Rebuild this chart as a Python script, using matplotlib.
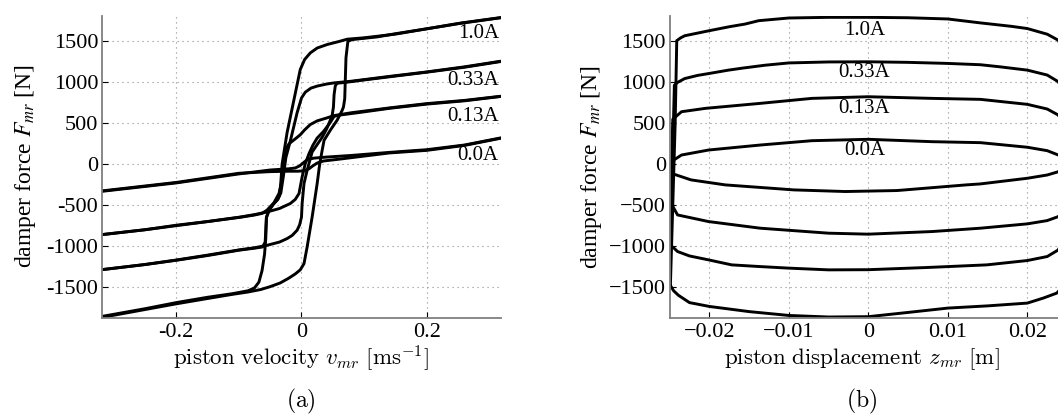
import matplotlib
matplotlib.use('Agg')
import matplotlib.pyplot as plt

plt.rcParams['font.family'] = ['Liberation Serif', 'DejaVu Serif']
plt.rcParams['mathtext.fontset'] = 'stix'

# ---------------- data: force vs velocity (panel a) ----------------
# 0.0 A
v00_a = [-0.318, -0.2, -0.1, -0.05, -0.02, -0.01, -0.003, 0.004, 0.01, 0.02, 0.04, 0.08, 0.14, 0.2, 0.26, 0.318]
F00_a = [-330, -228, -118, -70, -55, -45, -20, 25, 60, 75, 88, 108, 145, 178, 235, 322]
v00_b = [-0.318, -0.2, -0.1, -0.05, -0.02, -0.005, 0.005, 0.012, 0.018, 0.025, 0.035, 0.06, 0.1, 0.14, 0.2, 0.26, 0.318]
F00_b = [-325, -222, -110, -90, -85, -85, -78, -55, -20, 15, 40, 62, 100, 138, 170, 230, 318]
# 0.13 A
v13_a = [-0.318, -0.25, -0.2, -0.15, -0.1, -0.075, -0.063, -0.055, -0.044, -0.036, -0.031, -0.028, -0.026,
         -0.02, -0.01, -0.002, 0.005, 0.014, 0.025, 0.04, 0.052, 0.08, 0.142, 0.2, 0.26, 0.318]
F13_a = [-859, -800, -745, -700, -650, -620, -600, -560, -470, -358, -196, 8, 171,
         250, 310, 360, 420, 485, 530, 565, 595, 630, 690, 741, 780, 831]
v13_b = [0.318, 0.26, 0.2, 0.142, 0.09, 0.06, 0.052, 0.045, 0.035, 0.025, 0.018, 0.012, 0.006, 0.001,
         -0.004, -0.01, -0.018, -0.035, -0.055, -0.075, -0.097, -0.15, -0.2, -0.25, -0.318]
F13_b = [828, 775, 735, 685, 630, 600, 585, 500, 400, 320, 230, 130, 8, -155,
         -358, -430, -480, -540, -583, -615, -644, -700, -750, -800, -859]
# 0.33 A
v33_a = [-0.318, -0.25, -0.2, -0.15, -0.1, -0.075, -0.062, -0.058, -0.057, -0.056, -0.052, -0.045, -0.038,
         -0.033, -0.029, -0.025, -0.018, -0.012, -0.007, 0.0, 0.006, 0.015, 0.025, 0.04, 0.052, 0.08,
         0.142, 0.2, 0.26, 0.318]
F33_a = [-1287, -1225, -1173, -1115, -1050, -1025, -1010, -950, -800, -650, -560, -490, -430,
         -350, -150, 80, 280, 470, 630, 810, 880, 930, 955, 980, 994, 1015,
         1075, 1128, 1190, 1259]
v33_b = [0.318, 0.26, 0.2, 0.142, 0.1, 0.07, 0.057, 0.054, 0.052, 0.051, 0.049, 0.045, 0.04, 0.033,
         0.025, 0.017, 0.009, 0.004, 0.001, 0.0, -0.003, -0.007, -0.015, -0.023, -0.035, -0.055,
         -0.075, -0.097, -0.15, -0.2, -0.25, -0.318]
F33_b = [1255, 1185, 1125, 1070, 1030, 1000, 990, 960, 850, 700, 600, 520, 430, 330,
         240, 150, -73, -236, -480, -644, -740, -806, -870, -908, -950, -990,
         -1020, -1043, -1110, -1170, -1225, -1287]
# 1.0 A
v10_a = [-0.318, -0.25, -0.2, -0.15, -0.111, -0.085, -0.075, -0.068, -0.063, -0.059, -0.057, -0.056,
         -0.052, -0.045, -0.038, -0.035, -0.033, -0.031, -0.023, -0.012, -0.006, -0.002, 0.005, 0.014,
         0.025, 0.041, 0.06, 0.073, 0.1, 0.15, 0.2, 0.254, 0.318]
F10_a = [-1858, -1765, -1690, -1625, -1582, -1545, -1510, -1440, -1300, -1100, -900, -650,
         -570, -485, -430, -380, -220, 0, 387, 790, 1010, 1157, 1280, 1360,
         1420, 1463, 1500, 1528, 1545, 1590, 1655, 1725, 1792]
v10_b = [0.318, 0.254, 0.2, 0.15, 0.121, 0.095, 0.08, 0.074, 0.071, 0.070, 0.069, 0.067, 0.065,
         0.057, 0.046, 0.036, 0.033, 0.029, 0.025, 0.017, 0.009, 0.004, -0.002, -0.01, -0.02,
         -0.034, -0.05, -0.065, -0.085, -0.111, -0.15, -0.2, -0.25, -0.318]
F10_b = [1790, 1722, 1655, 1595, 1556, 1535, 1522, 1500, 1300, 1050, 800, 700, 660,
         540, 416, 293, 171, 0, -236, -644, -1010, -1214, -1290, -1340, -1390,
         -1450, -1495, -1530, -1560, -1590, -1640, -1705, -1775, -1870]

# ---------------- data: force vs displacement (panel b) ----------------
z00_up = [-0.0249, -0.0248, -0.0235, -0.0201, -0.0136, -0.0071, 0.0, 0.008, 0.0141, 0.02, 0.0225, 0.0239, 0.0247, 0.025]
F00_up = [-114, 32, 113, 174, 235, 288, 305, 276, 264, 208, 166, 113, 60, 20]
z00_dn = [0.025, 0.0239, 0.0225, 0.02, 0.0141, 0.0123, 0.0036, -0.0029, -0.0094, -0.018, -0.0223, -0.0248, -0.0249]
F00_dn = [20, -91, -131, -171, -240, -252, -321, -333, -313, -252, -191, -110, -114]

z13_up = [-0.0249, -0.0246, -0.0235, -0.0205, -0.0136, -0.0071, 0.0, 0.008, 0.0141, 0.02, 0.0225, 0.0239, 0.0247, 0.025]
F13_up = [-520, 550, 642, 683, 744, 805, 825, 805, 793, 732, 675, 601, 450, 200]
z13_dn = [0.025, 0.0246, 0.0239, 0.0225, 0.02, 0.0141, 0.008, 0.0, -0.005, -0.0136, -0.0201, -0.024, -0.0248, -0.0249]
F13_dn = [200, -560, -639, -688, -728, -781, -822, -854, -842, -781, -700, -619, -480, -520]

z33_up = [-0.0249, -0.0244, -0.024, -0.0231, -0.0215, -0.0201, -0.0176, -0.0158, -0.013, -0.01, -0.005, 0.0,
          0.005, 0.01, 0.0141, 0.0166, 0.02, 0.0225, 0.0239, 0.0247, 0.025]
F33_up = [-990, 965, 1000, 1047, 1085, 1108, 1150, 1175, 1210, 1238, 1250, 1252,
          1245, 1232, 1216, 1190, 1150, 1090, 1008, 850, 600]
z33_dn = [0.025, 0.0245, 0.0239, 0.0225, 0.02, 0.0149, 0.01, 0.0074, 0.0, -0.005, -0.01, -0.0136, -0.0172,
          -0.0201, -0.0225, -0.024, -0.0245, -0.0249]
F33_dn = [600, -900, -1046, -1127, -1176, -1229, -1250, -1261, -1288, -1290, -1269, -1250, -1229,
          -1168, -1120, -1066, -1020, -990]

z10_up = [-0.0249, -0.0246, -0.0243, -0.0241, -0.0236, -0.0231, -0.02, -0.0175, -0.0155, -0.0138, -0.01,
          -0.005, 0.0, 0.005, 0.01, 0.0141, 0.018, 0.02, 0.0225, 0.0239, 0.0246, 0.025]
F10_up = [-1480, -500, 500, 1510, 1545, 1570, 1632, 1680, 1713, 1754, 1787,
          1795, 1795, 1790, 1775, 1727, 1685, 1658, 1589, 1515, 1350, 1000]
z10_dn = [0.025, 0.0246, 0.0237, 0.022, 0.02, 0.015, 0.01, 0.005, 0.0, -0.005, -0.01, -0.015, -0.02,
          -0.0225, -0.0239, -0.0245, -0.0249]
F10_dn = [1000, -1480, -1574, -1635, -1696, -1730, -1757, -1810, -1862, -1866, -1847, -1800, -1737,
          -1690, -1600, -1545, -1480]

# axis ticks and labels
vel_ticks = [-0.2, 0, 0.2]
vel_ticklabels = ['-0.2', '0', '0.2']
disp_ticks = [-0.02, -0.01, 0, 0.01, 0.02]
disp_ticklabels = ['\u22120.02', '\u22120.01', '0', '0.01', '0.02']
force_ticks = [-1500, -1000, -500, 0, 500, 1000, 1500]
force_ticklabels_a = ['-1500', '-1000', '-500', '0', '500', '1000', '1500']
force_ticklabels_b = ['\u22121500', '\u22121000', '\u2212500', '0', '500', '1000', '1500']
currents = ['0.0A', '0.13A', '0.33A', '1.0A']
label_F_a = [110, 578, 1026, 1597]
label_F_b = [174, 683, 1126, 1630]

# ---------------- figure ----------------
W, H = 1058, 418
fig = plt.figure(figsize=(W / 100, H / 100), dpi=100)
axA = fig.add_axes([102.3 / W, 1 - 317.5 / H, 398.4 / W, 301.8 / H])
axB = fig.add_axes([670.0 / W, 1 - 317.5 / H, 396.7 / W, 301.8 / H])

LW = 2.1
for v, F in [(v00_a, F00_a), (v00_b, F00_b), (v13_a, F13_a), (v13_b, F13_b),
             (v33_a, F33_a), (v33_b, F33_b), (v10_a, F10_a), (v10_b, F10_b)]:
    axA.plot(v, F, color='black', lw=LW, solid_joinstyle='round', solid_capstyle='round')

for zu, Fu, zd, Fd in [(z00_up, F00_up, z00_dn, F00_dn), (z13_up, F13_up, z13_dn, F13_dn),
                       (z33_up, F33_up, z33_dn, F33_dn), (z10_up, F10_up, z10_dn, F10_dn)]:
    axB.plot(zu + zd, Fu + Fd, color='black', lw=LW, solid_joinstyle='round', solid_capstyle='round')

TICK_FS = 16
axA.set_xlim(-0.318, 0.318)
axB.set_xlim(-0.02495, 0.02495)
for ax in (axA, axB):
    ax.set_ylim(-1872, 1815)
    ax.set_yticks(force_ticks)
    for s in ('top', 'right'):
        ax.spines[s].set_visible(False)
    for s in ('left', 'bottom'):
        ax.spines[s].set_color('#7f7f7f')
        ax.spines[s].set_linewidth(1.3)
    ax.tick_params(direction='in', length=4, width=0.8, color='black', labelsize=TICK_FS)
    ax.tick_params(axis='x', pad=4)
    ax.tick_params(axis='y', pad=3)
    ax.grid(True, linestyle=(0, (1, 3.5)), color='#8c8c8c', linewidth=0.8)
    ax.set_axisbelow(True)

axA.set_xticks(vel_ticks)
axA.set_xticklabels(vel_ticklabels)
axA.set_yticklabels(force_ticklabels_a)
axB.set_xticks(disp_ticks)
axB.set_xticklabels(disp_ticklabels)
axB.set_yticklabels(force_ticklabels_b)

for name, Fy in zip(currents, label_F_a):
    axA.text(0.315, Fy, name, ha='right', va='center', fontsize=15)
for name, Fy in zip(currents, label_F_b):
    axB.text(-0.0005, Fy, name, ha='center', va='center', fontsize=15)

ylab = r'damper force $F_{mr}$ [N]'
fig.text(26 / W, 1 - 166 / H, ylab, rotation=90, ha='center', va='center', fontsize=17)
fig.text(592 / W, 1 - 167 / H, ylab, rotation=90, ha='center', va='center', fontsize=17)

fig.text(301 / W, 1 - 359 / H, r'$\mathrm{piston\ velocity}\ v_{mr}\ [\mathrm{ms}^{-1}]$',
         ha='center', va='center', fontsize=16.5, math_fontfamily='cm')
fig.text(862 / W, 1 - 359 / H, r'$\mathrm{piston\ displacement}\ z_{mr}\ [\mathrm{m}]$',
         ha='center', va='center', fontsize=16.5, math_fontfamily='cm')
fig.text(301 / W, 1 - 401 / H, r'$\mathrm{(a)}$', ha='center', va='center', fontsize=17, math_fontfamily='cm')
fig.text(862 / W, 1 - 401 / H, r'$\mathrm{(b)}$', ha='center', va='center', fontsize=17, math_fontfamily='cm')

fig.savefig('out.png', dpi=100)
